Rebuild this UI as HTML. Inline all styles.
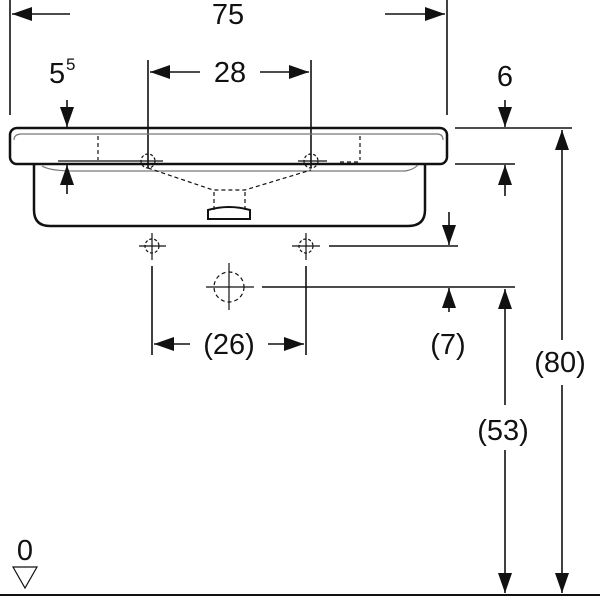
<!DOCTYPE html>
<html><head><style>body{margin:0;background:#fff}svg{display:block}text{font-family:"Liberation Sans",sans-serif;fill:#111}</style></head><body>
<svg width="600" height="600" viewBox="0 0 600 600" xmlns="http://www.w3.org/2000/svg">
<defs>
<marker id="a" viewBox="0 0 20 14" refX="20" refY="7" markerWidth="20" markerHeight="14" markerUnits="userSpaceOnUse" orient="auto-start-reverse"><path d="M0,0L20,7L0,14z" fill="#111"/></marker>
</defs>
<g stroke="#111" stroke-width="1.6" fill="none">
<!-- 75 -->
<line x1="10" y1="0" x2="10" y2="115"/><line x1="447" y1="0" x2="447" y2="115"/>
<line x1="12" y1="14" x2="70" y2="14" marker-start="url(#a)"/><line x1="385" y1="14" x2="445" y2="14" marker-end="url(#a)"/>
<!-- 28 -->
<line x1="148" y1="60" x2="148" y2="168"/><line x1="311" y1="60" x2="311" y2="168"/>
<line x1="150" y1="72" x2="200" y2="72" marker-start="url(#a)"/><line x1="260" y1="72" x2="309" y2="72" marker-end="url(#a)"/>
<!-- rim -->
<rect x="10" y="128" width="437" height="36" rx="7" stroke-width="2.5"/>
<path d="M14,140 Q14,134 22,134 L437,134 Q443,134 443,140" stroke="#777" stroke-width="1.2"/>
<path d="M34,164 L34,210 Q34,226 50,226 L408,226 Q425,226 425,210 L425,164" stroke-width="2.5"/>
<path d="M42,166 Q50,171 75,171 L405,171 Q413,170 418,165" stroke="#777" stroke-width="1.2"/>
<g stroke-dasharray="4,3" stroke-width="1.2">
<line x1="98" y1="136" x2="98" y2="160"/><line x1="360" y1="136" x2="360" y2="160"/>
<path d="M148,168 L213,190 L245,190 L311,170"/>
<line x1="214" y1="192" x2="214" y2="210"/><line x1="245" y1="192" x2="245" y2="210"/>
<line x1="340" y1="162" x2="360" y2="162"/>
</g>
<path d="M208,219 L208,210 Q229,204 250,210 L250,219 Z" stroke-width="2"/>
<g stroke-width="1.2"><line x1="135" y1="161" x2="163" y2="161"/><line x1="298" y1="161" x2="327" y2="161"/>
<circle cx="148" cy="161" r="7" stroke-dasharray="3,2"/><circle cx="311" cy="161" r="7" stroke-dasharray="3,2"/></g>
<!-- 5^5 -->
<line x1="58" y1="161" x2="135" y2="161" stroke-width="1.2"/>
<line x1="67" y1="100" x2="67" y2="127" marker-end="url(#a)"/>
<line x1="67" y1="194" x2="67" y2="165" marker-end="url(#a)"/>
<!-- 6 -->
<line x1="455" y1="128" x2="572" y2="128"/><line x1="455" y1="164" x2="515" y2="164"/>
<line x1="505" y1="100" x2="505" y2="127" marker-end="url(#a)"/>
<line x1="505" y1="196" x2="505" y2="165" marker-end="url(#a)"/>
<!-- 80 -->
<line x1="562" y1="130" x2="562" y2="340" marker-start="url(#a)"/>
<line x1="562" y1="385" x2="562" y2="593" marker-end="url(#a)"/>
<!-- crosshairs -->
<g stroke-width="1.2">
<line x1="139" y1="246" x2="166" y2="246"/><line x1="152" y1="233" x2="152" y2="260"/><circle cx="152" cy="246" r="7" stroke-dasharray="3,2"/>
<line x1="292" y1="246" x2="320" y2="246"/><line x1="306" y1="233" x2="306" y2="260"/><circle cx="306" cy="246" r="7" stroke-dasharray="3,2"/>
<line x1="206" y1="287" x2="254" y2="287"/><line x1="229" y1="263" x2="229" y2="310"/><circle cx="229" cy="287" r="15" stroke-dasharray="4,3"/>
</g>
<line x1="329" y1="246" x2="458" y2="246"/>
<line x1="262" y1="287" x2="515" y2="287"/>
<!-- 7 -->
<line x1="449" y1="212" x2="449" y2="245" marker-end="url(#a)"/>
<line x1="449" y1="312" x2="449" y2="288" marker-end="url(#a)"/>
<!-- 26 -->
<line x1="152" y1="266" x2="152" y2="355"/><line x1="306" y1="266" x2="306" y2="355"/>
<line x1="154" y1="344" x2="190" y2="344" marker-start="url(#a)"/><line x1="268" y1="344" x2="304" y2="344" marker-end="url(#a)"/>
<!-- 53 -->
<line x1="505" y1="289" x2="505" y2="405" marker-start="url(#a)"/>
<line x1="505" y1="450" x2="505" y2="593" marker-end="url(#a)"/>
<!-- ground -->
<line x1="0" y1="595" x2="600" y2="595" stroke-width="2"/>
<path d="M13,567 L37,567 L25,588 Z" stroke-width="1.2"/>
</g>
<g font-size="29">
<text x="228" y="24" text-anchor="middle">75</text>
<text x="230" y="82" text-anchor="middle">28</text>
<text x="49" y="83">5</text><text x="66" y="70" font-size="17">5</text>
<text x="505" y="86" text-anchor="middle">6</text>
<text x="229" y="354" text-anchor="middle">(26)</text>
<text x="448" y="354" text-anchor="middle">(7)</text>
<text x="560" y="372" text-anchor="middle">(80)</text>
<text x="503" y="440" text-anchor="middle">(53)</text>
<text x="25" y="560" text-anchor="middle">0</text>
</g>
</svg>
</body></html>
